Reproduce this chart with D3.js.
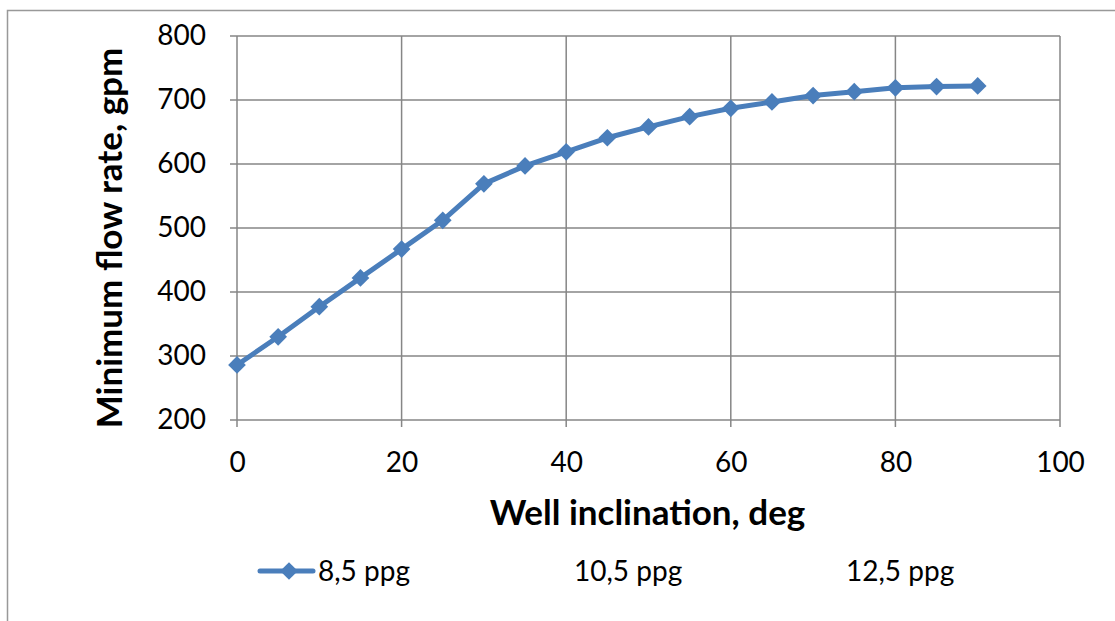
<!DOCTYPE html>
<html>
<head>
<meta charset="utf-8">
<script src="https://cdn.jsdelivr.net/npm/d3@7"></script>
<style>
  body { margin: 0; background: #fff; }
  svg { display: block; font-family: Lato, "Open Sans", sans-serif; }
</style>
</head>
<body>
<div id="chart"></div>
<script>
// données
const inclination = [0, 5, 10, 15, 20, 25, 30, 35, 40, 45, 50, 55, 60, 65, 70, 75, 80, 85, 90];
const flow85 = [286, 330, 377, 422, 467, 512, 569, 597, 619, 641, 658, 674, 687, 697, 707, 713, 719, 721, 722];
const seriesNames = ["8,5 ppg", "10,5 ppg", "12,5 ppg"];
const xTicks = [0, 20, 40, 60, 80, 100];
const yTicks = [200, 300, 400, 500, 600, 700, 800];

const fullWidth = 1115, fullHeight = 621;
const margin = { top: 36, right: 55, bottom: 201, left: 237 };
const width = fullWidth - margin.left - margin.right,
      height = fullHeight - margin.top - margin.bottom;

const blue = "#4a7ebb", grid = "#868686";

const svg = d3.select("#chart").append("svg")
    .attr("width", fullWidth)
    .attr("height", fullHeight);

// cadre du graphique
svg.append("path")
    .attr("d", "M7.5," + (fullHeight + 2) + "V10.5H" + (fullWidth + 2))
    .attr("fill", "none")
    .attr("stroke", "#999")
    .attr("stroke-width", 1.5);

const g = svg.append("g")
    .attr("transform", "translate(" + margin.left + "," + margin.top + ")");

const xScale = d3.scaleLinear().domain([0, 100]).range([0, width]);
const yScale = d3.scaleLinear().domain([200, 800]).range([height, 0]);

// grille
g.append("g").selectAll("line").data(yTicks).enter().append("line")
    .attr("x1", -7).attr("x2", width)
    .attr("y1", d => yScale(d)).attr("y2", d => yScale(d))
    .attr("stroke", grid).attr("stroke-width", 1.5);
g.append("g").selectAll("line").data(xTicks).enter().append("line")
    .attr("x1", d => xScale(d)).attr("x2", d => xScale(d))
    .attr("y1", 0).attr("y2", height + 7)
    .attr("stroke", grid).attr("stroke-width", 1.5);

// étiquettes des axes
const xAxis = g.append("g")
    .attr("transform", "translate(0," + height + ")")
    .call(d3.axisBottom(xScale).tickValues(xTicks).tickSize(0).tickPadding(31));
const yAxis = g.append("g")
    .call(d3.axisLeft(yScale).tickValues(yTicks).tickSize(0).tickPadding(31));
[xAxis, yAxis].forEach(a => {
    a.select(".domain").remove();
    a.selectAll("text").style("font-size", "28px").style("fill", "#000")
        .style("font-family", "Lato, 'Open Sans', sans-serif");
});
xAxis.selectAll("text").attr("dy", "0.35em").attr("y", 42);

g.append("text")
    .attr("x", xScale(50) - 1)
    .attr("y", height + 93)
    .attr("dy", "0.35em")
    .attr("text-anchor", "middle")
    .style("font-size", "35px").style("font-weight", "bold")
    .text("Well inclination, deg");

g.append("text")
    .attr("transform", "translate(" + (-127) + "," + (height / 2 + 10) + ") rotate(-90)")
    .attr("dy", "0.35em")
    .attr("text-anchor", "middle")
    .style("font-size", "35px").style("font-weight", "bold")
    .text("Minimum flow rate, gpm");

// courbe
const line = d3.line()
    .x((d, i) => xScale(inclination[i]))
    .y(d => yScale(d));

g.append("path")
    .datum(flow85)
    .attr("d", line)
    .attr("fill", "none")
    .attr("stroke", blue)
    .attr("stroke-width", 5)
    .attr("stroke-linejoin", "round");

const diamond = d3.symbol().type(d3.symbolDiamond2).size(200);
g.selectAll(".pt").data(flow85).enter().append("path")
    .attr("class", "pt")
    .attr("d", diamond)
    .attr("transform", (d, i) => "translate(" + xScale(inclination[i]) + "," + yScale(d) + ")")
    .attr("fill", blue);

// légende
const legendX = [258, 574, 846];
const legend = svg.append("g").attr("transform", "translate(0,571)");
seriesNames.forEach(function(name, i) {
    const row = legend.append("g").attr("transform", "translate(" + legendX[i] + ",0)");
    if (i === 0) {
        row.append("line").attr("x1", 2).attr("x2", 55).attr("y1", 0).attr("y2", 0)
            .attr("stroke", blue).attr("stroke-width", 5).attr("stroke-linecap", "round");
        row.append("path").attr("d", diamond)
            .attr("transform", "translate(31,0)")
            .attr("fill", blue);
        row.append("text").attr("x", 60).attr("dy", "0.35em")
            .style("font-size", "28px").text(name);
    } else {
        row.append("text").attr("x", 0).attr("dy", "0.35em")
            .style("font-size", "28px").text(name);
    }
});
</script>
</body>
</html>
